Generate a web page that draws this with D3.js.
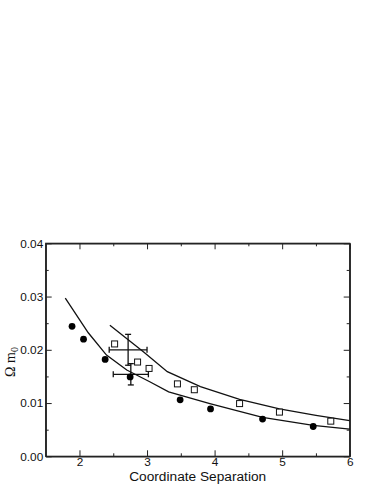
<!DOCTYPE html>
<html>
<head>
<meta charset="utf-8">
<script src="https://cdn.jsdelivr.net/npm/d3@7"></script>
<style>
  body { margin: 0; background: #fff; }
  svg { display: block; }
</style>
</head>
<body>
<script>
// data
const circleX = [1.89, 2.06, 2.38, 2.75, 3.49, 3.94, 4.71, 5.46];
const circleY = [0.0244, 0.0220, 0.0182, 0.0149, 0.0106, 0.0089, 0.0070, 0.0056];
const squareX = [2.52, 2.86, 3.03, 3.45, 3.70, 4.37, 4.96, 5.72];
const squareY = [0.0211, 0.0177, 0.0165, 0.0136, 0.0125, 0.0099, 0.0083, 0.0066];

// error bar points: [x, y, xerr, yerr]
const errSquare = [2.72, 0.0200, 0.28, 0.0029];
const errCircle = [2.76, 0.0154, 0.26, 0.0020];

const lowerX = [1.79, 2.13, 2.40, 2.70, 3.04, 3.32, 3.54, 3.93, 4.71, 5.46, 6.0];
const lowerY = [0.0297, 0.0232, 0.0190, 0.0162, 0.0140, 0.0121, 0.0113, 0.0099, 0.0073, 0.0058, 0.0051];
const upperX = [2.45, 2.95, 3.30, 3.79, 4.37, 4.96, 5.5, 6.0];
const upperY = [0.0246, 0.0196, 0.0159, 0.0131, 0.0107, 0.0089, 0.0077, 0.0067];

const xTicks = [2, 3, 4, 5, 6];
const xMinor = [2.5, 3.5, 4.5, 5.5];
const yTicks = [0, 0.01, 0.02, 0.03, 0.04];
const yMinor = [0.005, 0.015, 0.025, 0.035];

const WIDTH = 388, HEIGHT = 502;
const L = 45.7, R = 349.7, T = 243.3, B = 456.3;

const svg = d3.select("body").append("svg")
  .attr("width", WIDTH).attr("height", HEIGHT)
  .style("font-family", "'Liberation Sans', Arial, sans-serif");

const x = d3.scaleLinear().domain([1.5, 6]).range([L, R]);
const y = d3.scaleLinear().domain([0, 0.04]).range([B, T]);

// axes, ticks pointing inward
svg.append("g").attr("transform", `translate(0,${B})`)
  .call(d3.axisBottom(x).tickValues(xTicks).tickFormat(d3.format("d")).tickSize(-6).tickSizeOuter(0).tickPadding(1.5));
svg.append("g").attr("transform", `translate(0,${B})`)
  .call(d3.axisBottom(x).tickValues(xMinor).tickFormat("").tickSize(-3).tickSizeOuter(0));
svg.append("g").attr("transform", `translate(0,${T})`)
  .call(d3.axisTop(x).tickValues(xTicks).tickFormat("").tickSize(-6).tickSizeOuter(0));
svg.append("g").attr("transform", `translate(0,${T})`)
  .call(d3.axisTop(x).tickValues(xMinor).tickFormat("").tickSize(-3).tickSizeOuter(0));

svg.append("g").attr("transform", `translate(${L},0)`)
  .call(d3.axisLeft(y).tickValues(yTicks).tickFormat(d3.format(".2f")).tickSize(-6).tickSizeOuter(0).tickPadding(2.5));
svg.append("g").attr("transform", `translate(${L},0)`)
  .call(d3.axisLeft(y).tickValues(yMinor).tickFormat("").tickSize(-3).tickSizeOuter(0));
svg.append("g").attr("transform", `translate(${R},0)`)
  .call(d3.axisRight(y).tickValues(yTicks).tickFormat("").tickSize(-6).tickSizeOuter(0));
svg.append("g").attr("transform", `translate(${R},0)`)
  .call(d3.axisRight(y).tickValues(yMinor).tickFormat("").tickSize(-3).tickSizeOuter(0));

svg.selectAll(".tick text").attr("font-size", 11.8).attr("font-family", "'Liberation Sans', Arial, sans-serif").attr("fill", "#111");
svg.selectAll(".domain, .tick line").attr("stroke", "#222");

// frame
svg.append("rect")
  .attr("x", L).attr("y", T).attr("width", R - L).attr("height", B - T)
  .attr("fill", "none").attr("stroke", "#222").attr("stroke-width", 1.2);

// curves
const line = d3.line().x(d => x(d[0])).y(d => y(d[1]));
svg.append("path").datum(d3.zip(lowerX, lowerY))
  .attr("d", line).attr("fill", "none").attr("stroke", "#111").attr("stroke-width", 1.3);
svg.append("path").datum(d3.zip(upperX, upperY))
  .attr("d", line).attr("fill", "none").attr("stroke", "#111").attr("stroke-width", 1.3);

// error bars
function errBar(e) {
  const g = svg.append("g").attr("stroke", "#111").attr("stroke-width", 1.3);
  const cx = x(e[0]), cy = y(e[1]);
  const x0 = x(e[0] - e[2]), x1 = x(e[0] + e[2]);
  const y0 = y(e[1] - e[3]), y1 = y(e[1] + e[3]);
  g.append("line").attr("x1", x0).attr("x2", x1).attr("y1", cy).attr("y2", cy);
  g.append("line").attr("x1", cx).attr("x2", cx).attr("y1", y0).attr("y2", y1);
  g.append("line").attr("x1", x0).attr("x2", x0).attr("y1", cy - 3).attr("y2", cy + 3);
  g.append("line").attr("x1", x1).attr("x2", x1).attr("y1", cy - 3).attr("y2", cy + 3);
  g.append("line").attr("x1", cx - 3).attr("x2", cx + 3).attr("y1", y0).attr("y2", y0);
  g.append("line").attr("x1", cx - 3).attr("x2", cx + 3).attr("y1", y1).attr("y2", y1);
}
errBar(errSquare);
errBar(errCircle);

// markers
svg.selectAll("rect.sq").data(d3.zip(squareX, squareY)).enter().append("rect")
  .attr("class", "sq")
  .attr("x", d => x(d[0]) - 3).attr("y", d => y(d[1]) - 3)
  .attr("width", 6).attr("height", 6)
  .attr("fill", "#fff").attr("stroke", "#111").attr("stroke-width", 1);

svg.selectAll("circle").data(d3.zip(circleX, circleY)).enter().append("circle")
  .attr("cx", d => x(d[0])).attr("cy", d => y(d[1]))
  .attr("r", 3.4).attr("fill", "#000");

// axis titles
svg.append("text")
  .attr("x", (L + R) / 2).attr("y", 481)
  .attr("text-anchor", "middle").attr("font-size", 13.7).attr("fill", "#111")
  .text("Coordinate Separation");

const yl = svg.append("text")
  .attr("transform", "translate(15,362) rotate(-90)")
  .attr("text-anchor", "middle")
  .attr("font-family", "'Liberation Serif', 'Times New Roman', serif")
  .attr("font-size", 14).attr("fill", "#111");
yl.append("tspan").text("Ω m");
yl.append("tspan").attr("dy", 3).attr("font-size", 10).text("0");
</script>
</body>
</html>
